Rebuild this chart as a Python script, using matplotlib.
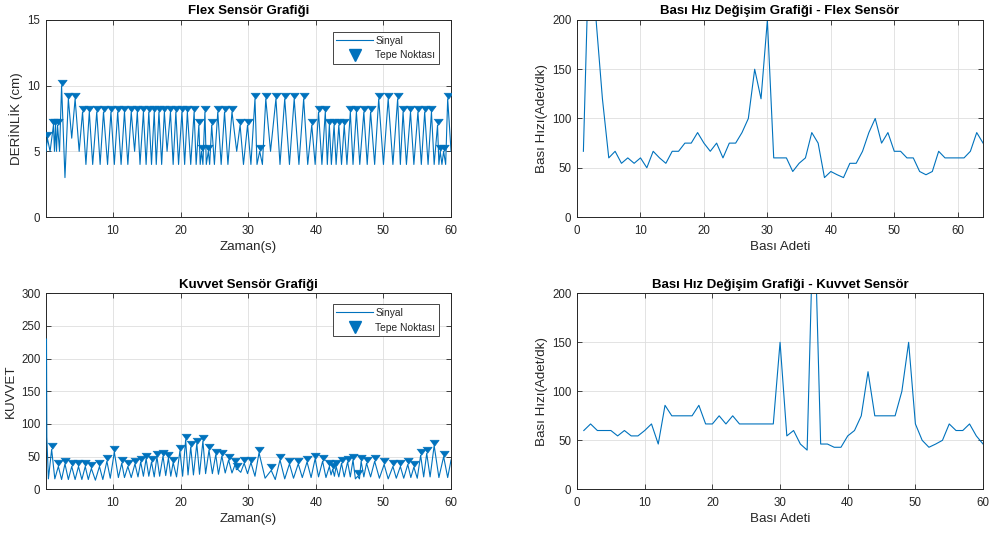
import numpy as np
import matplotlib
matplotlib.use("Agg")
import matplotlib.pyplot as plt
from matplotlib.lines import Line2D

plt.rcParams['font.family'] = ['Liberation Sans', 'DejaVu Sans']

# --- flex sensor: detected peaks (s, cm) and the valleys between them
flex_peak_t = [0.3, 1.2, 1.5, 1.8, 2.4, 3.4, 4.4,
               5.5, 6.5, 7.6, 8.6, 9.7, 10.7, 11.7, 12.7, 13.6, 14.5, 15.3, 16.1, 16.8,
               17.6, 18.5, 19.3, 20.2, 21.0, 22.0,
               22.7, 23.1, 23.6, 24.1, 24.6, 25.5, 26.5, 27.6, 28.8, 29.9, 31.0, 31.7,
               32.6, 34.1, 35.4, 36.8, 38.2, 39.4, 40.4, 41.4, 42.0, 42.7, 43.4, 44.2,
               45.1, 46.0, 47.1, 48.1, 49.3, 50.7, 52.1, 52.9, 54.0, 55.1, 56.1, 57.1,
               58.0, 58.4, 58.9, 59.5]
flex_peak_v = [6, 7, 7, 7, 10, 9, 9,
               8, 8, 8, 8, 8, 8, 8, 8, 8, 8, 8, 8, 8,
               8, 8, 8, 8, 8, 8,
               7, 5, 8, 5, 7, 8, 8, 8, 7, 7, 9, 5,
               9, 9, 9, 9, 9, 7, 8, 8, 7, 7, 7, 7,
               8, 8, 8, 8, 9, 9, 9, 8, 8, 8, 8, 8,
               7, 5, 5, 9]
flex_low_t = [0.1, 0.7, 1.35, 1.65, 2.1, 2.9, 3.9, 5.0,
              6.0, 7.0, 8.1, 9.2, 10.2, 11.2, 12.2, 13.2, 14.0, 14.9, 15.7, 16.4,
              17.2, 18.0, 18.9, 19.7, 20.6, 21.5, 22.3,
              22.9, 23.3, 23.8, 24.3, 25.0, 26.0, 27.0, 28.3, 29.3, 30.4, 31.3, 32.1,
              33.3, 34.7, 36.1, 37.5, 38.8, 39.9, 40.9, 41.7, 42.3, 43.0, 43.8, 44.6,
              45.5, 46.5, 47.6, 48.7, 50.0, 51.4, 52.5, 53.4, 54.5, 55.6, 56.6, 57.5,
              58.2, 58.65, 59.2, 60.0]
flex_low_v = [5, 5, 5, 5, 5, 3, 6, 5,
              4, 4, 4, 4, 4, 4, 4, 5, 4, 4, 4, 4,
              4, 5, 4, 4, 4, 4, 4,
              4, 4, 4, 4, 4, 4, 4, 5, 4, 4, 4, 4,
              5, 4, 4, 4, 4, 4, 4, 4, 4, 4, 4, 4,
              4, 4, 4, 4, 4, 4, 4, 4, 4, 4, 4, 4,
              4, 4, 4, 5]

# --- force sensor: detected peaks and valleys
kuv_peak_t = [0.93, 1.92, 2.9, 3.9, 4.9, 5.9, 6.8, 8.0, 9.1, 10.2,
              11.3, 12.2, 13.25, 14.1, 14.9, 15.7, 16.5, 17.4, 18.2, 18.9,
              19.9, 20.75, 21.5, 22.4, 23.3, 24.2, 25.2, 26.1, 27.1, 28.1,
              28.4, 29.4, 30.4, 31.6, 33.4, 34.7, 36.1, 37.4, 38.7, 39.9,
              41.0, 42.0, 42.5, 43.0, 43.8, 44.7, 45.5, 46.2, 46.7, 47.5,
              48.7, 50.1, 51.4, 52.5, 53.6, 54.5, 55.5, 56.4, 57.5, 58.9]
kuv_peak_v = [61, 35, 39, 35, 35, 35, 32, 35, 43, 57,
              40, 35, 39, 42, 47, 42, 50, 51, 48, 41,
              59, 76, 65, 70, 74, 60, 53, 51, 45, 39,
              31, 40, 41, 56, 29, 45, 39, 39, 42, 47,
              43, 35, 31, 35, 40, 42, 45, 20, 43, 40,
              43, 38, 35, 35, 38, 34, 52, 55, 67, 50]
kuv_low_t = [0.17, 0.22, 0.45, 1.4, 2.4, 3.4, 4.4, 5.4, 6.35, 7.4, 8.5, 9.6,
             10.8, 11.7, 12.7, 13.7, 14.5, 15.3, 16.1, 16.9, 17.8, 18.55, 19.4,
             20.3, 21.1, 21.9, 22.8, 23.7, 24.7, 25.6, 26.6, 27.6, 28.25, 28.9,
             29.9, 31.0, 32.5, 34.0, 35.4, 36.7, 38.0, 39.3, 40.4, 41.5, 42.25,
             42.75, 43.4, 44.2, 45.1, 45.85, 46.45, 47.1, 48.1, 49.4, 50.7, 51.9,
             53.0, 54.05, 55.0, 55.95, 56.9, 58.2, 59.5, 60.0]
kuv_low_v = [230, 80, 16, 16, 15, 15, 15, 15, 15, 14, 15, 17,
             18, 18, 18, 19, 20, 20, 19, 20, 21, 20, 19,
             20, 22, 22, 23, 24, 24, 23, 25, 25, 30, 26,
             24, 20, 17, 15, 16, 17, 18, 18, 19, 18, 22,
             20, 19, 19, 19, 16, 16, 19, 19, 17, 16, 17,
             17, 18, 17, 19, 19, 18, 18, 45]

# --- press rate (presses per minute) for each press
flex_rate = [66.7, 300, 200, 120, 60, 66.7, 54.5, 60, 54.5, 60,
             50, 66.7, 60, 54.5, 66.7, 66.7, 75, 75, 85.7, 75,
             66.7, 75, 60, 75, 75, 85.7, 100, 150, 120, 200,
             60, 60, 60, 46.2, 54.5, 60, 85.7, 75, 40, 46.2,
             42.9, 40, 54.5, 54.5, 66.7, 85.7, 100, 75, 85.7, 66.7,
             66.7, 60, 60, 46.2, 42.9, 46.2, 66.7, 60, 60, 60,
             60, 66.7, 85.7, 75]
kuv_rate = [60, 66.7, 60, 60, 60, 54.5, 60, 54.5, 54.5, 60,
            66.7, 46.2, 85.7, 75, 75, 75, 75, 85.7, 66.7, 66.7,
            75, 66.7, 75, 66.7, 66.7, 66.7, 66.7, 66.7, 66.7, 150,
            54.5, 60, 46.2, 40, 300, 46.2, 46.2, 42.9, 42.9, 54.5,
            60, 75, 120, 75, 75, 75, 75, 100, 150, 66.7,
            50, 42.9, 46.2, 50, 66.7, 60, 60, 66.7, 54.5, 46.2]

BLUE = '#0072BD'
INK = '#262626'
# downward triangle with its tip on the data point
TIP_DOWN = [(-1.0, 1.35), (1.0, 1.35), (0.0, 0.0)]


def signal(peak_t, peak_v, low_t, low_v):
    t = np.concatenate([peak_t, low_t])
    v = np.concatenate([peak_v, low_v])
    order = np.argsort(t, kind='stable')
    return t[order], v[order]


def style(ax):
    ax.grid(True, color='#dedede', linewidth=0.6)
    ax.set_axisbelow(True)
    ax.tick_params(direction='in', top=True, right=True, length=3.5, width=0.6,
                   colors=INK, labelsize=8.3)
    ax.tick_params(axis='x', pad=5.5)
    ax.tick_params(axis='y', pad=4)
    for sp in ax.spines.values():
        sp.set_color(INK)
        sp.set_linewidth(0.7)


def labels(ax, title, xlabel, ylabel):
    ax.set_title(title, fontsize=9.5, fontweight='bold', color='black', pad=4)
    ax.set_xlabel(xlabel, fontsize=9.6, color=INK, labelpad=3)
    ax.set_ylabel(ylabel, fontsize=9.6, color=INK, labelpad=3)


def sensor_plot(ax, t, v, pk_t, pk_v, legend_y):
    # signal drawn over the frame so the edge samples stay visible
    ax.plot(t, v, color=BLUE, linewidth=0.8, zorder=3)
    ax.plot(pk_t, pk_v, linestyle='none', marker=TIP_DOWN, markersize=9,
            color=BLUE, markeredgewidth=0.5, zorder=3)
    handles = [Line2D([], [], color=BLUE, linewidth=0.8),
               Line2D([], [], linestyle='none', marker='v', markersize=8.5, color=BLUE)]
    leg = ax.legend(handles, ['Sinyal', 'Tepe Noktası'], loc='upper right',
                    bbox_to_anchor=(0.970, legend_y), borderaxespad=0, fontsize=7.4,
                    handlelength=3.6, handletextpad=0.2, labelspacing=0.45,
                    borderpad=0.35, fancybox=False, framealpha=1, edgecolor=INK)
    leg.get_frame().set_linewidth(0.6)
    leg.set_zorder(5)
    for txt in leg.get_texts():
        txt.set_color(INK)


fig = plt.figure(figsize=(9.92, 5.37), dpi=100)

# flex sensor signal
ax1 = fig.add_axes([0.0464, 0.5959, 0.4083, 0.3669])
ft, fv = signal(flex_peak_t, flex_peak_v, flex_low_t, flex_low_v)
sensor_plot(ax1, ft, fv, flex_peak_t, flex_peak_v, 0.939)
ax1.set_xlim(0.1, 60)
ax1.set_ylim(0, 15)
ax1.set_xticks(np.arange(10, 61, 10))
ax1.set_yticks([0, 5, 10, 15])
style(ax1)
labels(ax1, 'Flex Sensör Grafiği', 'Zaman(s)', 'DERİNLİK (cm)')

# flex press rate
ax2 = fig.add_axes([0.5817, 0.5959, 0.4093, 0.3669])
ax2.plot(np.arange(1, len(flex_rate) + 1), flex_rate, color=BLUE, linewidth=0.8)
ax2.set_xlim(0, 64)
ax2.set_ylim(0, 200)
ax2.set_xticks(np.arange(0, 61, 10))
ax2.set_yticks(np.arange(0, 201, 50))
style(ax2)
labels(ax2, 'Bası Hız Değişim Grafiği - Flex Sensör', 'Bası Adeti', 'Bası Hızı(Adet/dk)')

# force sensor signal
ax3 = fig.add_axes([0.0464, 0.0888, 0.4083, 0.365])
kt, kv = signal(kuv_peak_t, kuv_peak_v, kuv_low_t, kuv_low_v)
sensor_plot(ax3, kt, kv, kuv_peak_t, kuv_peak_v, 0.944)
ax3.set_xlim(0.1, 60)
ax3.set_ylim(0, 300)
ax3.set_xticks(np.arange(10, 61, 10))
ax3.set_yticks(np.arange(0, 301, 50))
style(ax3)
labels(ax3, 'Kuvvet Sensör Grafiği', 'Zaman(s)', 'KUVVET')

# force press rate
ax4 = fig.add_axes([0.5817, 0.0888, 0.4093, 0.365])
ax4.plot(np.arange(1, len(kuv_rate) + 1), kuv_rate, color=BLUE, linewidth=0.8)
ax4.set_xlim(0, 60)
ax4.set_ylim(0, 200)
ax4.set_xticks(np.arange(0, 61, 10))
ax4.set_yticks(np.arange(0, 201, 50))
style(ax4)
labels(ax4, 'Bası Hız Değişim Grafiği - Kuvvet Sensör', 'Bası Adeti', 'Bası Hızı(Adet/dk)')

fig.savefig('out.png', dpi=100, facecolor='white')
